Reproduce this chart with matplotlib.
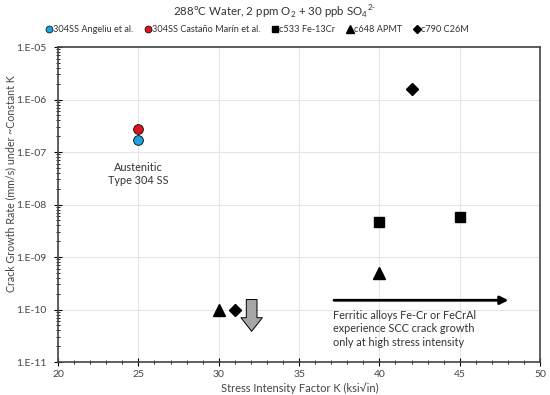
import matplotlib.pyplot as plt
from matplotlib.ticker import FixedLocator, MultipleLocator, LogLocator, NullFormatter
from matplotlib.lines import Line2D

plt.rcParams['font.family'] = ['Lato', 'DejaVu Sans']
plt.rcParams['mathtext.fontset'] = 'custom'
plt.rcParams['mathtext.rm'] = 'Lato'

# data
angeliu_k = [25]
angeliu_rate = [1.7e-7]
castano_k = [25]
castano_rate = [2.7e-7]
c533_k = [40, 45]
c533_rate = [4.6e-9, 5.8e-9]
c648_k = [30, 40]
c648_rate = [1.0e-10, 5.0e-10]
c790_k = [31, 42]
c790_rate = [1.0e-10, 1.6e-6]

yticks = [1e-11, 1e-10, 1e-9, 1e-8, 1e-7, 1e-6, 1e-5]
ylabels = ['1.E-11', '1.E-10', '1.E-09', '1.E-08', '1.E-07', '1.E-06', '1.E-05']

fig = plt.figure(figsize=(5.5, 3.95), dpi=100)
ax = fig.add_axes([0.1055, 0.0835, 0.8765, 0.7975])

ax.plot(angeliu_k, angeliu_rate, 'o', color='#1ca3e0', mec='black', mew=0.6, ms=7, zorder=5)
ax.plot(castano_k, castano_rate, 'o', color='#e0141e', mec='black', mew=0.6, ms=7, zorder=5)
ax.plot(c533_k, c533_rate, 's', color='black', ms=7, zorder=5)
ax.plot(c648_k, c648_rate, '^', color='black', ms=8, zorder=5)
ax.plot(c790_k, c790_rate, 'D', color='black', ms=6, zorder=5)

ax.set_yscale('log')
ax.set_xlim(20, 50)
ax.set_ylim(1e-11, 1e-5)
ax.yaxis.set_major_locator(FixedLocator(yticks))
ax.set_yticklabels(ylabels)
ax.yaxis.set_minor_locator(LogLocator(base=10, subs=range(2, 10)))
ax.yaxis.set_minor_formatter(NullFormatter())
ax.xaxis.set_major_locator(MultipleLocator(5))
ax.xaxis.set_minor_locator(MultipleLocator(1))

ax.grid(True, which='major', color='#e6e6e6', lw=0.8, zorder=0)
ax.set_axisbelow(True)
ax.tick_params(which='major', direction='inout', length=6, width=0.8, labelsize=7.5,
               colors='black', labelcolor='#444444')
ax.tick_params(axis='x', which='major', pad=3)
ax.tick_params(axis='y', which='major', pad=5)
ax.tick_params(which='minor', direction='inout', length=3, width=0.6)
for s in ax.spines.values():
    s.set_color('#444444')
    s.set_linewidth(1.2)

ax.set_xlabel('Stress Intensity Factor K (ksi\u221ain)', fontsize=8, color='#444444')
ax.set_ylabel('Crack Growth Rate (mm/s) under ~Constant K', fontsize=7.7, color='#444444')
ax.yaxis.set_label_coords(-0.086, 0.565)
ax.xaxis.set_label_coords(0.502, -0.064)

# annotations
ax.text(25, 6.5e-8, 'Austenitic\nType 304 SS', ha='center', va='top', fontsize=7.8,
        color='#333333', linespacing=1.25)
ax.text(37.1, 1.0e-10, 'Ferritic alloys Fe-Cr or FeCrAl\nexperience SCC crack growth\nonly at high stress intensity',
        ha='left', va='top', fontsize=7.8, color='#333333', linespacing=1.3)
ax.annotate('', xy=(48.2, 1.5e-10), xytext=(37.0, 1.5e-10),
            arrowprops=dict(arrowstyle='-|>', color='black', lw=2, mutation_scale=12))
ax.annotate('', xy=(32.05, 3.4e-11), xytext=(32.05, 1.75e-10),
            arrowprops=dict(arrowstyle='simple,head_width=1.1,head_length=0.7,tail_width=0.55',
                            fc='#a6a6a6', ec='black', lw=0.7, mutation_scale=14))

fig.text(0.499, 0.99, '288\u00b0C Water, 2 ppm O$_2$ + 30 ppb SO$_4$$^{2\u2010}$', ha='center', va='top',
         fontsize=8.3, color='#333333')

handles = [
    Line2D([], [], marker='o', ls='', color='#1ca3e0', mec='black', mew=0.5, ms=5),
    Line2D([], [], marker='o', ls='', color='#e0141e', mec='black', mew=0.5, ms=5),
    Line2D([], [], marker='s', ls='', color='black', ms=5),
    Line2D([], [], marker='^', ls='', color='black', ms=6),
    Line2D([], [], marker='D', ls='', color='black', ms=4.5),
]
names = ['304SS Angeliu et al.', '304SS Casta\u00f1o Mar\u00edn et al.', 'c533 Fe-13Cr',
         'c648 APMT', 'c790 C26M']
fig.legend(handles, names, loc='center', bbox_to_anchor=(0.468, 0.926), ncol=5, frameon=False,
           fontsize=6.6, handlelength=0.6, handletextpad=0.15, columnspacing=1.3,
           borderpad=0.2, labelcolor='#333333')

fig.savefig('out.png', dpi=100)
